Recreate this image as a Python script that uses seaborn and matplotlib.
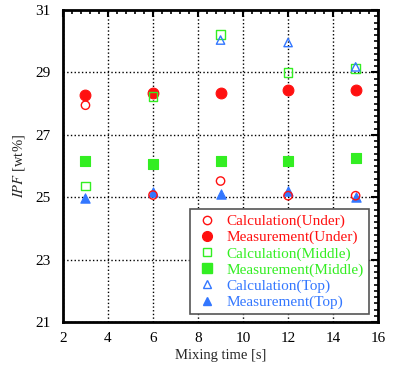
import numpy as np
import pandas as pd
import matplotlib
matplotlib.use("Agg")
import matplotlib.pyplot as plt
import seaborn as sns
from matplotlib.lines import Line2D
from matplotlib.ticker import MultipleLocator

sns.set_style("white")
plt.rcParams['font.family'] = ['Liberation Serif', 'DejaVu Serif']
plt.rcParams['mathtext.fontset'] = 'stix'

mixing_time = [3, 6, 9, 12, 15]
calc_under = [27.95, 25.07, 25.52, 25.05, 25.05]
meas_under = [28.28, 28.33, 28.34, 28.45, 28.45]
calc_middle = [25.36, 28.24, 30.23, 28.99, 29.13]
meas_middle = [26.16, 26.06, 26.16, 26.16, 26.26]
calc_top = [np.nan, np.nan, 30.04, 29.96, 29.18]
meas_top = [24.98, 25.18, 25.09, 25.21, 25.00]
y_ticks = [21, 23, 25, 27, 29, 31]
x_ticks = [2, 4, 6, 8, 10, 12, 14, 16]

labels = ["Calculation(Under)", "Measurement(Under)", "Calculation(Middle)",
          "Measurement(Middle)", "Calculation(Top)", "Measurement(Top)"]
red, green, blue = "#FF1010", "#33EE22", "#3377FF"

series = [
    (meas_top, blue, "^", True, 45),
    (meas_middle, green, "s", True, 55),
    (meas_under, red, "o", True, 60),
    (calc_under, red, "o", False, 36),
    (calc_middle, green, "s", False, 40),
    (calc_top, blue, "^", False, 36),
]

fig = plt.figure(figsize=(4.01, 3.74), dpi=100)
ax = fig.add_axes([0.157, 0.139, 0.786, 0.834])

for vals, col, mk, filled, s in series:
    df = pd.DataFrame({"x": mixing_time, "y": vals}).dropna()
    if filled:
        sns.scatterplot(data=df, x="x", y="y", ax=ax, marker=mk, s=s,
                        color=col, edgecolor=col, linewidth=0.8, zorder=3)
    else:
        sns.scatterplot(data=df, x="x", y="y", ax=ax, marker=mk, s=s,
                        facecolors="none", edgecolor=col, linewidth=1.0, zorder=4)

ax.set_xlim(2, 16)
ax.set_ylim(21, 31)
ax.set_xticks(x_ticks)
ax.set_yticks(y_ticks)
ax.xaxis.set_minor_locator(MultipleLocator(0.4))
ax.yaxis.set_minor_locator(MultipleLocator(0.2))
ax.tick_params(which="both", direction="in", top=True, right=True, labelsize=11, colors="black")
ax.tick_params(which="major", length=5, width=1.5)
ax.tick_params(which="minor", length=3, width=1.2)
ax.tick_params(axis="x", which="major", pad=7)
ax.tick_params(axis="y", which="major", pad=9)
ax.grid(True, which="major", linestyle=":", color="black", linewidth=1.0)
for sp in ax.spines.values():
    sp.set_linewidth(2)
    sp.set_color("black")

ax.set_xlabel("Mixing time [s]", fontsize=10.5, labelpad=3)
ax.set_ylabel(r"$IPF$ [wt%]", fontsize=10.5, labelpad=6)

handles = [
    Line2D([], [], marker="o", linestyle="none", markerfacecolor="none", markeredgecolor=red, markersize=6),
    Line2D([], [], marker="o", linestyle="none", color=red, markersize=7),
    Line2D([], [], marker="s", linestyle="none", markerfacecolor="none", markeredgecolor=green, markersize=6),
    Line2D([], [], marker="s", linestyle="none", color=green, markersize=7),
    Line2D([], [], marker="^", linestyle="none", markerfacecolor="none", markeredgecolor=blue, markersize=6),
    Line2D([], [], marker="^", linestyle="none", color=blue, markersize=6),
]
leg = ax.legend(handles, labels, loc="lower right", fontsize=11, frameon=True, fancybox=False,
                edgecolor="#555555", framealpha=1, borderpad=0.35, labelspacing=0.15,
                handletextpad=0.5, handlelength=1.5, bbox_to_anchor=(0.995, 0.0))
leg.get_frame().set_linewidth(1.2)
for t, c in zip(leg.get_texts(), [red, red, green, green, blue, blue]):
    t.set_color(c)

fig.savefig("out.png", dpi=100)
